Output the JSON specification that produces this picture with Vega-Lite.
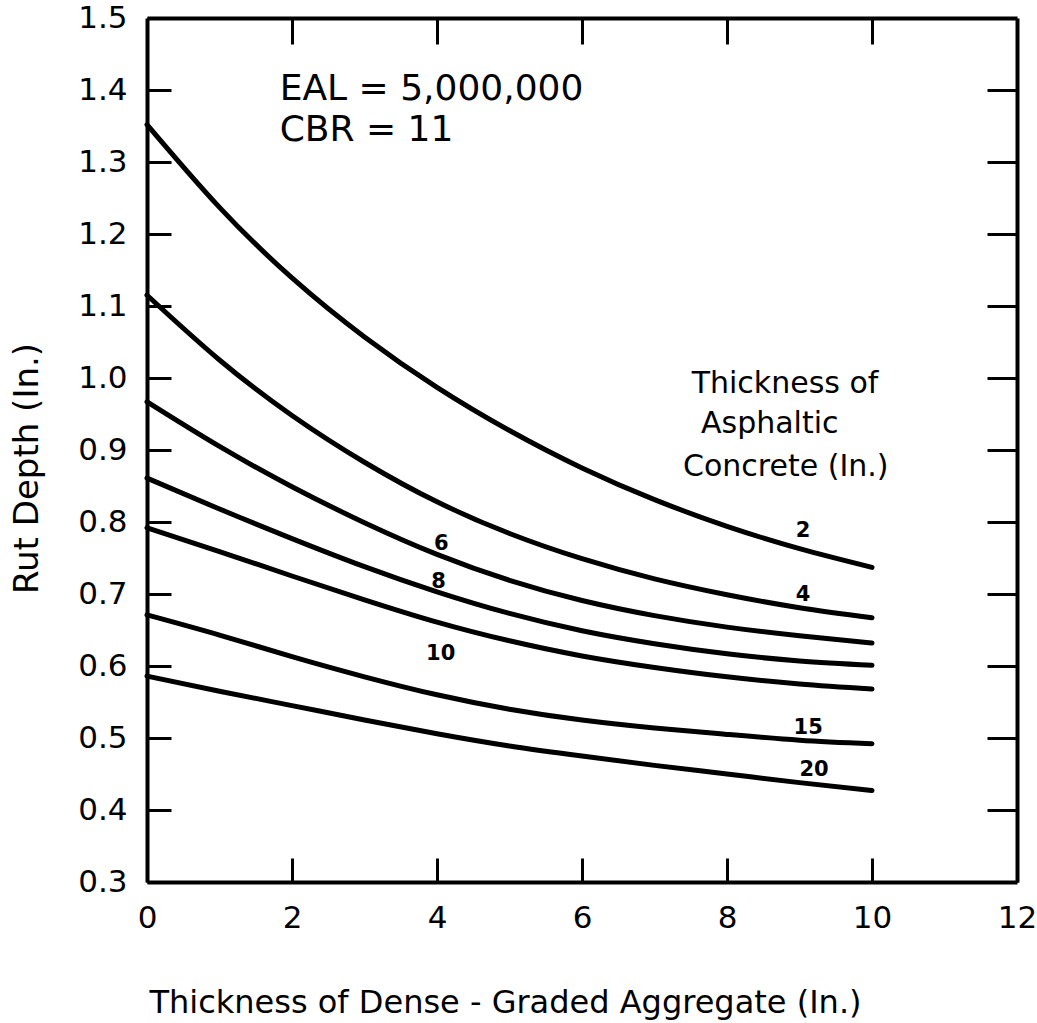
{
  "$schema": "https://vega.github.io/schema/vega-lite/v6.json",
  "width": 870,
  "height": 864,
  "autosize": {"type": "none"},
  "padding": {"left": 147, "top": 18, "right": 20, "bottom": 141},
  "background": "white",
  "config": {
    "view": {"stroke": null},
    "font": "DejaVu Sans",
    "axis": {
      "grid": false,
      "domainColor": "black",
      "domainWidth": 4,
      "tickColor": "black",
      "tickWidth": 3,
      "labelColor": "black",
      "titleColor": "black",
      "labelFont": "DejaVu Sans",
      "titleFont": "DejaVu Sans",
      "titleFontWeight": "normal"
    }
  },
  "datasets": {
    "curves": [
      {"ac": "2", "x": 0, "rut": 1.352}, {"ac": "2", "x": 1, "rut": 1.237}, {"ac": "2", "x": 2, "rut": 1.139}, {"ac": "2", "x": 3, "rut": 1.057}, {"ac": "2", "x": 4, "rut": 0.987}, {"ac": "2", "x": 5, "rut": 0.927}, {"ac": "2", "x": 6, "rut": 0.875}, {"ac": "2", "x": 7, "rut": 0.831}, {"ac": "2", "x": 8, "rut": 0.794}, {"ac": "2", "x": 9, "rut": 0.763}, {"ac": "2", "x": 10, "rut": 0.737},
      {"ac": "4", "x": 0, "rut": 1.115}, {"ac": "4", "x": 1, "rut": 1.025}, {"ac": "4", "x": 2, "rut": 0.948}, {"ac": "4", "x": 3, "rut": 0.883}, {"ac": "4", "x": 4, "rut": 0.828}, {"ac": "4", "x": 5, "rut": 0.784}, {"ac": "4", "x": 6, "rut": 0.749}, {"ac": "4", "x": 7, "rut": 0.721}, {"ac": "4", "x": 8, "rut": 0.699}, {"ac": "4", "x": 9, "rut": 0.681}, {"ac": "4", "x": 10, "rut": 0.667},
      {"ac": "6", "x": 0, "rut": 0.967}, {"ac": "6", "x": 1, "rut": 0.905}, {"ac": "6", "x": 2, "rut": 0.849}, {"ac": "6", "x": 3, "rut": 0.799}, {"ac": "6", "x": 4, "rut": 0.755}, {"ac": "6", "x": 5, "rut": 0.719}, {"ac": "6", "x": 6, "rut": 0.691}, {"ac": "6", "x": 7, "rut": 0.670}, {"ac": "6", "x": 8, "rut": 0.654}, {"ac": "6", "x": 9, "rut": 0.642}, {"ac": "6", "x": 10, "rut": 0.632},
      {"ac": "8", "x": 0, "rut": 0.861}, {"ac": "8", "x": 1, "rut": 0.818}, {"ac": "8", "x": 2, "rut": 0.777}, {"ac": "8", "x": 3, "rut": 0.738}, {"ac": "8", "x": 4, "rut": 0.703}, {"ac": "8", "x": 5, "rut": 0.673}, {"ac": "8", "x": 6, "rut": 0.649}, {"ac": "8", "x": 7, "rut": 0.631}, {"ac": "8", "x": 8, "rut": 0.617}, {"ac": "8", "x": 9, "rut": 0.607}, {"ac": "8", "x": 10, "rut": 0.601},
      {"ac": "10", "x": 0, "rut": 0.792}, {"ac": "10", "x": 1, "rut": 0.759}, {"ac": "10", "x": 2, "rut": 0.725}, {"ac": "10", "x": 3, "rut": 0.692}, {"ac": "10", "x": 4, "rut": 0.661}, {"ac": "10", "x": 5, "rut": 0.635}, {"ac": "10", "x": 6, "rut": 0.614}, {"ac": "10", "x": 7, "rut": 0.598}, {"ac": "10", "x": 8, "rut": 0.585}, {"ac": "10", "x": 9, "rut": 0.575}, {"ac": "10", "x": 10, "rut": 0.568},
      {"ac": "15", "x": 0, "rut": 0.671}, {"ac": "15", "x": 1, "rut": 0.643}, {"ac": "15", "x": 2, "rut": 0.613}, {"ac": "15", "x": 3, "rut": 0.585}, {"ac": "15", "x": 4, "rut": 0.560}, {"ac": "15", "x": 5, "rut": 0.540}, {"ac": "15", "x": 6, "rut": 0.525}, {"ac": "15", "x": 7, "rut": 0.514}, {"ac": "15", "x": 8, "rut": 0.505}, {"ac": "15", "x": 9, "rut": 0.497}, {"ac": "15", "x": 10, "rut": 0.492},
      {"ac": "20", "x": 0, "rut": 0.586}, {"ac": "20", "x": 1, "rut": 0.565}, {"ac": "20", "x": 2, "rut": 0.545}, {"ac": "20", "x": 3, "rut": 0.525}, {"ac": "20", "x": 4, "rut": 0.506}, {"ac": "20", "x": 5, "rut": 0.489}, {"ac": "20", "x": 6, "rut": 0.475}, {"ac": "20", "x": 7, "rut": 0.462}, {"ac": "20", "x": 8, "rut": 0.450}, {"ac": "20", "x": 9, "rut": 0.438}, {"ac": "20", "x": 10, "rut": 0.427}
    ],
    "curveLabels": [
      {"label": "2", "x": 9.05, "rut": 0.787},
      {"label": "4", "x": 9.05, "rut": 0.698},
      {"label": "6", "x": 4.06, "rut": 0.770},
      {"label": "8", "x": 4.02, "rut": 0.717},
      {"label": "10", "x": 4.05, "rut": 0.617},
      {"label": "15", "x": 9.12, "rut": 0.514},
      {"label": "20", "x": 9.2, "rut": 0.456}
    ],
    "conditions": [
      {"text": "EAL = 5,000,000", "x": 1.83, "rut": 1.402},
      {"text": "CBR = 11", "x": 1.83, "rut": 1.345}
    ],
    "legendTitle": [
      {"text": "Thickness of", "x": 8.8, "rut": 0.992},
      {"text": "Asphaltic", "x": 8.59, "rut": 0.936},
      {"text": "Concrete (In.)", "x": 8.81, "rut": 0.876}
    ]
  },
  "layer": [
    {
      "data": {"name": "curves"},
      "mark": {"type": "line", "color": "black", "strokeWidth": 5, "interpolate": "natural", "strokeCap": "round"},
      "encoding": {
        "x": {
          "field": "x", "type": "quantitative",
          "scale": {"domain": [0, 12], "nice": false, "zero": false},
          "axis": {
            "orient": "bottom",
            "values": [0, 2, 4, 6, 8, 10, 12],
            "tickSize": -24,
            "labelPadding": 45,
            "labelFontSize": 31,
            "labelFlush": false,
            "title": "Thickness of Dense - Graded Aggregate (In.)",
            "titleFontSize": 32,
            "titleX": 358,
            "titleY": 130,
            "titleAlign": "center",
            "titleBaseline": "alphabetic"
          }
        },
        "y": {
          "field": "rut", "type": "quantitative",
          "scale": {"domain": [0.3, 1.5], "nice": false, "zero": false},
          "axis": {
            "orient": "left",
            "values": [0.3, 0.4, 0.5, 0.6, 0.7, 0.8, 0.9, 1.0, 1.1, 1.2, 1.3, 1.4, 1.5],
            "format": ".1f",
            "tickSize": -24,
            "labelPadding": 44,
            "labelFontSize": 31,
            "labelFlush": false,
            "title": "Rut Depth (In.)",
            "titleFontSize": 34,
            "titleAngle": -90,
            "titleX": -120,
            "titleY": 450,
            "titleAlign": "center",
            "titleBaseline": "middle"
          }
        },
        "detail": {"field": "ac", "type": "nominal"}
      }
    },
    {
      "data": {"name": "curveLabels"},
      "mark": {"type": "text", "fontSize": 21, "fontWeight": "bold", "color": "black", "align": "center", "baseline": "middle"},
      "encoding": {
        "x": {
          "field": "x", "type": "quantitative",
          "axis": {"orient": "top", "values": [2, 4, 6, 8, 10], "labels": false, "tickSize": -26, "title": null}
        },
        "y": {
          "field": "rut", "type": "quantitative",
          "axis": {"orient": "right", "values": [0.4, 0.5, 0.6, 0.7, 0.8, 0.9, 1.0, 1.1, 1.2, 1.3, 1.4], "labels": false, "tickSize": -30, "title": null}
        },
        "text": {"field": "label"}
      }
    },
    {
      "data": {"name": "conditions"},
      "mark": {"type": "text", "fontSize": 36, "color": "black", "align": "left", "baseline": "middle"},
      "encoding": {
        "x": {"field": "x", "type": "quantitative", "axis": null},
        "y": {"field": "rut", "type": "quantitative", "axis": null},
        "text": {"field": "text"}
      }
    },
    {
      "data": {"name": "legendTitle"},
      "mark": {"type": "text", "fontSize": 30, "color": "black", "align": "center", "baseline": "middle"},
      "encoding": {
        "x": {"field": "x", "type": "quantitative", "axis": null},
        "y": {"field": "rut", "type": "quantitative", "axis": null},
        "text": {"field": "text"}
      }
    }
  ]
}
